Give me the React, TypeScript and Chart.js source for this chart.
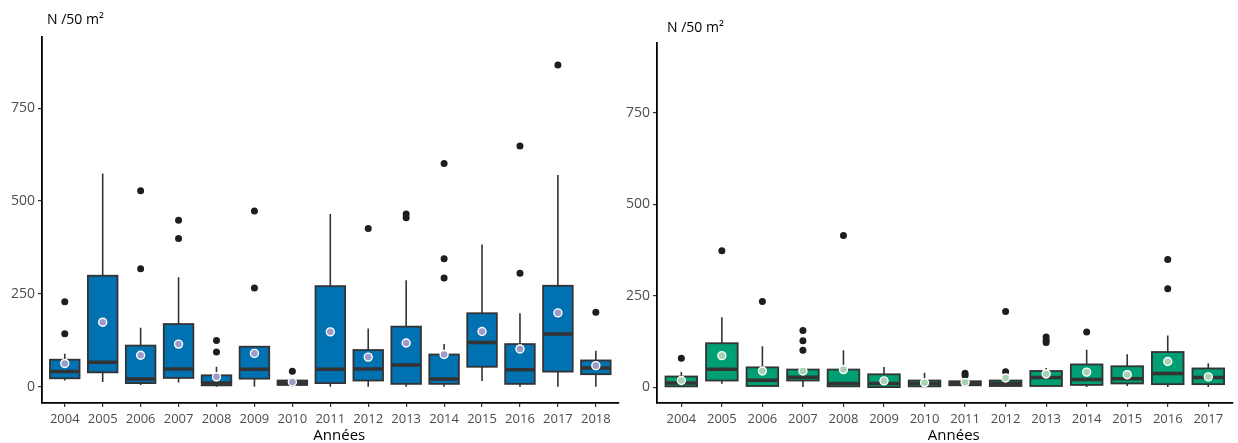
import React, { useEffect, useRef } from 'react';
import { Chart, registerables } from 'chart.js';
Chart.register(...registerables);

// ---------- Left panel (blue) ----------
const yearsA = ['2004', '2005', '2006', '2007', '2008', '2009', '2010', '2011', '2012', '2013', '2014', '2015', '2016', '2017', '2018'];
const loA = [17, 13, 5, 12, 0, 0, 0, 0, 0, 0, 0, 16, 0, 0, 0];
const q1A = [23, 39, 10, 24, 4, 22, 5, 10, 17, 8, 8, 54, 8, 41, 34];
const medA = [41, 66, 21, 48, 10, 47, 10, 47, 48, 59, 21, 119, 46, 142, 51];
const q3A = [73, 299, 111, 169, 31, 108, 17, 271, 99, 162, 87, 198, 115, 272, 71];
const hiA = [89, 574, 159, 295, 54, 108, 17, 465, 157, 287, 115, 383, 198, 570, 97];
const meanA = [63, 174, 85, 115, 27, 90, 13, 148, 80, 118, 87, 149, 102, 199, 57];
const outA = [[229, 143], [], [528, 318], [448, 399], [125, 94], [473, 266], [42], [], [426], [465, 455], [601, 345, 293], [], [648, 306], [866], [201]];

// ---------- Right panel (green) ----------
const yearsB = ['2004', '2005', '2006', '2007', '2008', '2009', '2010', '2011', '2012', '2013', '2014', '2015', '2016', '2017'];
const loB = [0, 9, 0, 0, 0, 0, 0, 0, 0, 0, 0, 3, 0, 0];
const q1B = [2, 18, 3, 18, 2, 0, 2, 5, 3, 3, 6, 10, 8, 8];
const medB = [11, 49, 19, 27, 10, 10, 10, 10, 10, 26, 21, 23, 37, 26];
const q3B = [29, 120, 54, 48, 48, 35, 18, 16, 18, 44, 62, 57, 96, 51];
const hiB = [41, 191, 112, 48, 101, 55, 39, 16, 18, 52, 102, 90, 141, 65];
const meanB = [18, 86, 44, 44, 48, 17, 12, 13, 25, 36, 41, 34, 70, 28];
const outB = [[79], [373], [234], [155, 127, 101], [415], [], [], [38, 32], [207, 42], [137, 128, 122], [151], [], [349, 269], []];

const yTicks = [0, 250, 500, 750];
const yMin = -43.5;
const yMax = 941.5;
const yTitle = 'N /50 m²';
const xTitle = 'Années';

const FONT = "'Open Sans', 'Noto Sans', sans-serif";

function makeBoxPlugin(lo: number[], q1: number[], med: number[], q3: number[], hi: number[], fill: string) {
  return {
    id: 'boxes',
    beforeDatasetsDraw(chart: any) {
      const { ctx, chartArea } = chart;
      const x = chart.scales.x;
      const y = chart.scales.y;
      const half = (x.getPixelForValue(2) - x.getPixelForValue(1)) * 0.39;
      ctx.save();
      ctx.beginPath();
      ctx.rect(chartArea.left, chartArea.top, chartArea.right - chartArea.left, chartArea.bottom - chartArea.top);
      ctx.clip();
      for (let i = 0; i < q1.length; i++) {
        const cx = x.getPixelForValue(i + 1);
        const yLo = y.getPixelForValue(lo[i]);
        const yQ1 = y.getPixelForValue(q1[i]);
        const yMed = y.getPixelForValue(med[i]);
        const yQ3 = y.getPixelForValue(q3[i]);
        const yHi = y.getPixelForValue(hi[i]);
        ctx.strokeStyle = '#333333';
        ctx.lineWidth = 1.6;
        ctx.beginPath();
        ctx.moveTo(cx, yHi);
        ctx.lineTo(cx, yQ3);
        ctx.moveTo(cx, yQ1);
        ctx.lineTo(cx, yLo);
        ctx.stroke();
        ctx.fillStyle = fill;
        ctx.fillRect(cx - half, yQ3, half * 2, yQ1 - yQ3);
        ctx.lineWidth = 1.8;
        ctx.strokeRect(cx - half, yQ3, half * 2, yQ1 - yQ3);
        ctx.lineWidth = 3.5;
        ctx.beginPath();
        ctx.moveTo(cx - half, yMed);
        ctx.lineTo(cx + half, yMed);
        ctx.stroke();
      }
      ctx.restore();
    },
  };
}

function makeTextPlugin(titleDx: number, titleDy: number, xTitleDx: number) {
  return {
    id: 'texts',
    afterDraw(chart: any) {
      const { ctx, chartArea } = chart;
      ctx.save();
      ctx.fillStyle = '#000';
      ctx.font = `14px ${FONT}`;
      ctx.textAlign = 'left';
      ctx.textBaseline = 'middle';
      ctx.fillText(yTitle, chartArea.left + titleDx, chartArea.top + titleDy);
      ctx.font = `15px ${FONT}`;
      ctx.textAlign = 'center';
      ctx.fillText(xTitle, (chartArea.left + chartArea.right) / 2 + xTitleDx, 436);
      ctx.restore();
    },
  };
}

interface PanelProps {
  years: string[];
  lo: number[];
  q1: number[];
  med: number[];
  q3: number[];
  hi: number[];
  mean: number[];
  out: number[][];
  fill: string;
  meanFill: string;
  left: number;
  width: number;
  axisWidth: number;
  top: number;
  titleDx: number;
  titleDy: number;
}

function Panel(p: PanelProps) {
  const ref = useRef<HTMLCanvasElement | null>(null);
  useEffect(() => {
    if (!ref.current) return;
    const outliers: { x: number; y: number }[] = [];
    p.out.forEach((arr, i) => arr.forEach((v) => outliers.push({ x: i + 1, y: v })));
    const means = p.mean.map((v, i) => ({ x: i + 1, y: v }));
    const chart = new Chart(ref.current, {
      type: 'scatter',
      data: {
        datasets: [
          {
            label: 'mean',
            data: means,
            pointRadius: 4,
            pointHoverRadius: 4,
            backgroundColor: p.meanFill,
            borderColor: '#ffffff',
            borderWidth: 1.4,
            order: 0,
          },
          {
            label: 'outliers',
            data: outliers,
            pointRadius: 3.5,
            pointHoverRadius: 3.5,
            backgroundColor: '#1e1e1e',
            borderWidth: 0,
            order: 1,
          },
        ],
      },
      options: {
        animation: false,
        responsive: false,
        layout: { padding: { top: p.top, right: 2, bottom: 0, left: 0 } },
        plugins: { legend: { display: false }, tooltip: { enabled: false } },
        scales: {
          x: {
            type: 'linear',
            min: 0.4,
            max: p.years.length + 0.6,
            afterBuildTicks: (axis: any) => {
              axis.ticks = p.years.map((_, i) => ({ value: i + 1 }));
            },
            afterFit: (scale: any) => {
              scale.height = 40;
            },
            ticks: {
              autoSkip: false,
              maxRotation: 0,
              color: '#4d4d4d',
              font: { family: FONT, size: 13 },
              padding: 4,
              callback: (v: any) => p.years[Math.round(Number(v)) - 1] ?? '',
            },
            grid: { display: true, drawOnChartArea: false, drawTicks: true, tickLength: 4, color: '#333333', lineWidth: 1.2 },
            border: { display: true, color: '#000000', width: 1.8 },
          },
          y: {
            type: 'linear',
            min: yMin,
            max: yMax,
            afterBuildTicks: (axis: any) => {
              axis.ticks = yTicks.map((v) => ({ value: v }));
            },
            afterFit: (scale: any) => {
              scale.width = p.axisWidth;
            },
            ticks: {
              color: '#4d4d4d',
              font: { family: FONT, size: 14 },
              padding: 3,
            },
            grid: { display: true, drawOnChartArea: false, drawTicks: true, tickLength: 4, color: '#333333', lineWidth: 1.2 },
            border: { display: true, color: '#000000', width: 1.8 },
          },
        },
      },
      plugins: [makeBoxPlugin(p.lo, p.q1, p.med, p.q3, p.hi, p.fill), makeTextPlugin(p.titleDx, p.titleDy, 9)],
    } as any);
    return () => chart.destroy();
  }, []);
  return (
    <canvas
      ref={ref}
      width={p.width}
      height={443}
      style={{ position: 'absolute', left: p.left, top: 0, width: p.width, height: 443 }}
    />
  );
}

export default function App() {
  return (
    <div style={{ position: 'fixed', left: 0, top: 0, width: 1238, height: 443, background: '#ffffff', overflow: 'hidden' }}>
      <Panel
        years={yearsA}
        lo={loA}
        q1={q1A}
        med={medA}
        q3={q3A}
        hi={hiA}
        mean={meanA}
        out={outA}
        fill="#0072b2"
        meanFill="#9d9bc8"
        left={0}
        width={624}
        axisWidth={42}
        top={37}
        titleDx={5}
        titleDy={-17}
      />
      <Panel
        years={yearsB}
        lo={loB}
        q1={q1B}
        med={medB}
        q3={q3B}
        hi={hiB}
        mean={meanB}
        out={outB}
        fill="#009e73"
        meanFill="#a6d3b4"
        left={622}
        width={616}
        axisWidth={35}
        top={43}
        titleDx={10}
        titleDy={-15}
      />
    </div>
  );
}
